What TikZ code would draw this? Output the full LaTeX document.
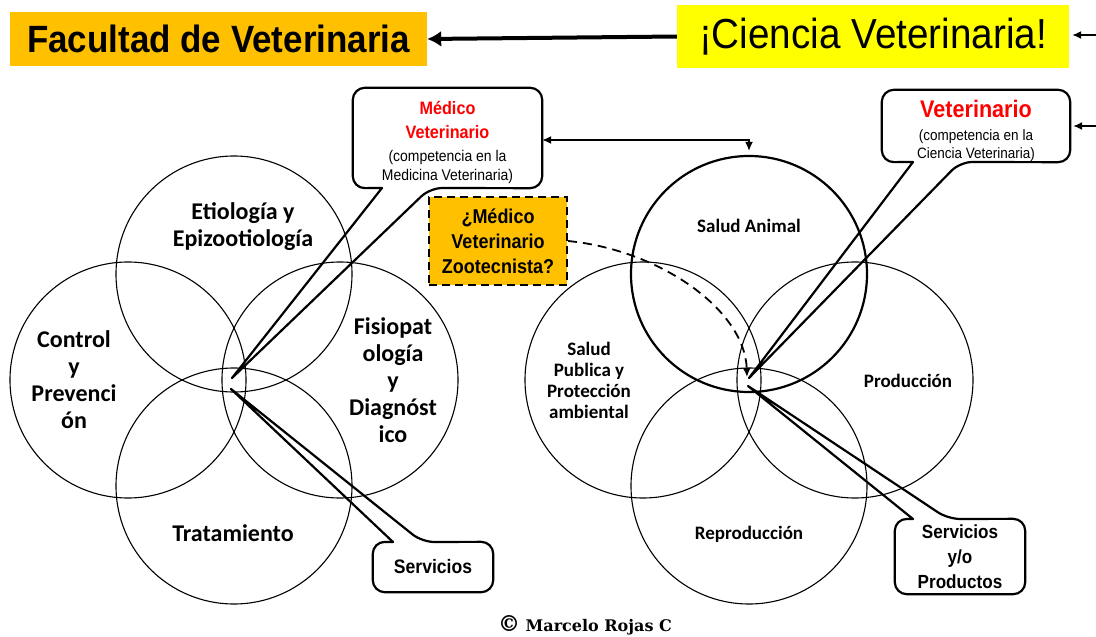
\documentclass[tikz,border=0pt]{standalone}
\usepackage{fontspec}
\usetikzlibrary{arrows.meta}
\newfontfamily\narrow[FakeStretch=0.9]{Liberation Sans}
\newfontfamily\topfont[FakeStretch=0.92]{Liberation Sans}
\newfontfamily\carl{Carlito}
\newfontfamily\slab{DejaVu Serif}
\definecolor{orangeF}{HTML}{FFC000}
\definecolor{yellowC}{HTML}{FFFF00}
\definecolor{redV}{HTML}{FF0000}
\newcommand\redl[2]{{\narrow\bfseries\fontsize{#1}{#1}\selectfont\color{redV}#2}}
\begin{document}
\begin{tikzpicture}[x=1pt,y=-1pt,
  ring/.style={circle,draw,line width=1.1pt,minimum size=236pt,inner sep=0pt},
  bigring/.style={ring,line width=2.2pt},
  lbl/.style={font=\carl\bfseries\fontsize{24}{27}\selectfont,align=center,inner sep=0pt},
  slbl/.style={font=\carl\bfseries\fontsize{19}{21}\selectfont,align=center,inner sep=0pt},
  cobox/.style={inner sep=0pt,align=center},
  coline/.style={line width=2.2pt,line join=round},
  tip/.style={-{Latex[length=9pt,width=8pt]}}
  ]
\useasboundingbox (0,0) rectangle (1096,637);
% left circles
\node[ring] (L1) at (234,274) {};
\node[ring] (L2) at (128,380) {};
\node[ring] (L3) at (340,380) {};
\node[ring] (L4) at (234,486) {};
% right circles
\node[ring] (R2) at (643,380) {};
\node[ring] (R3) at (855,380) {};
\node[ring] (R4) at (749,486) {};
\node[bigring] (R1) at (749,274) {};
% labels left
\node[lbl] (tE) at (243,227) {Etiología y\\Epizootiología};
\node[lbl] (tC) at (74,380) {Control\\y\\Prevenci\\ón};
\node[lbl] (tF) at (393,380) {Fisiopat\\ología\\y\\Diagnóst\\ico};
\node[lbl] (tT) at (233,533) {Tratamiento};
% labels right
\node[slbl] (tS) at (749,226) {Salud Animal};
\node[slbl] (tP) at (589,380) {Salud\\Publica y\\Protección\\ambiental};
\node[slbl] (tR) at (908,381) {Producción};
\node[slbl] (tD) at (749,534) {Reproducción};
% top boxes
\node[fill=orangeF,minimum width=417pt,minimum height=54pt,inner sep=0pt,
      font=\topfont\bfseries\fontsize{38}{40}\selectfont] (fv) at (218.5,39) {Facultad de Veterinaria};
\node[fill=yellowC,minimum width=392pt,minimum height=63pt,inner sep=0pt,
      font=\topfont\fontsize{42}{44}\selectfont] (cv) at (873,36.5) {¡Ciencia Veterinaria!};
\draw[line width=4pt,-{Latex[length=14pt,width=16pt]}] (cv.west) -- (fv.east);
\coordinate (in1) at (1096,35);
\coordinate (in2) at (1096,126);
\draw[line width=1.5pt,tip] (in1) -- ([xshift=3pt]cv.east |- in1);
% callout boxes
\node[cobox,minimum width=189pt,minimum height=100pt] (mv) at (447.5,138) {};
\node[cobox,font=\narrow\fontsize{15.5}{19}\selectfont] (mvx) at (447.5,143)
  {\redl{18}{Médico}\\[5pt]\redl{18}{Veterinario}\\[4pt](competencia en la\\Medicina Veterinaria)};
\node[cobox,minimum width=188pt,minimum height=72pt] (vet) at (976,126) {};
\node[cobox,font=\narrow\fontsize{15}{18}\selectfont] (vetx) at (976,131)
  {\redl{24}{Veterinario}\\[5pt](competencia en la\\Ciencia Veterinaria)};
\draw[line width=1.5pt,tip] (in2) -- ([xshift=3pt]vet.east |- in2);
\node[cobox,minimum width=120pt,minimum height=50pt,font=\narrow\bfseries\fontsize{19.5}{22}\selectfont] (sv) at (433,567) {Servicios};
\node[cobox,minimum width=130pt,minimum height=75pt,font=\narrow\bfseries\fontsize{19}{25}\selectfont] (sp) at (960,556.5) {Servicios\\y/o\\Productos};
\node[cobox,minimum width=138pt,minimum height=88pt,fill=orangeF,draw,line width=2.2pt,
      dash pattern=on 8pt off 5pt,font=\narrow\bfseries\fontsize{20}{25}\selectfont] (zoo) at (498,241)
  {¿Médico\\Veterinario\\Zootecnista?};
% callout outlines
\coordinate (mvt) at (232,378); \coordinate (mvb1) at (382,188); \coordinate (mvb2) at (430,188);
\draw[coline] (mvt) -- (mvb1) {[rounded corners=12pt] -- (mv.south west) -- (mv.north west) -- (mv.north east) -- (mv.south east) -- (mvb2)} -- cycle;
\coordinate (svt) at (231,389); \coordinate (svb1) at (393,542); \coordinate (svb2) at (422,542);
\draw[coline] (svt) -- (svb1) {[rounded corners=12pt] -- (sv.north west) -- (sv.south west) -- (sv.south east) -- (sv.north east) -- (svb2)} -- cycle;
\coordinate (vtt) at (749,378); \coordinate (vtb1) at (913,162); \coordinate (vtb2) at (960,162);
\draw[coline] (vtt) -- (vtb1) {[rounded corners=12pt] -- (vet.south west) -- (vet.north west) -- (vet.north east) -- (vet.south east) -- (vtb2)} -- cycle;
\coordinate (spt) at (748,386); \coordinate (spb1) at (913,519); \coordinate (spb2) at (948,519);
\draw[coline] (spt) -- (spb1) {[rounded corners=12pt] -- (sp.north west) -- (sp.south west) -- (sp.south east) -- (sp.north east) -- (spb2)} -- cycle;
% connectors
\coordinate (mva) at ([yshift=-2pt]mv.east);
\draw[line width=1.5pt,{Latex[length=9pt,width=8pt]}-{Latex[length=9pt,width=8pt]}]
  (mva) -- (R1.north |- mva) -- ([yshift=4pt]R1.north);
\coordinate (zt) at (747,377);
\draw[line width=1.8pt,dash pattern=on 9pt off 6pt,tip] (zoo.east) .. controls (660,250) and (745,310) .. (zt);
% credit
\node[inner sep=0pt,font=\slab\bfseries\fontsize{16}{18}\selectfont] (cr) at (585,625) {{\fontsize{22}{22}\selectfont ©} Marcelo Rojas C};
\end{tikzpicture}
\end{document}
